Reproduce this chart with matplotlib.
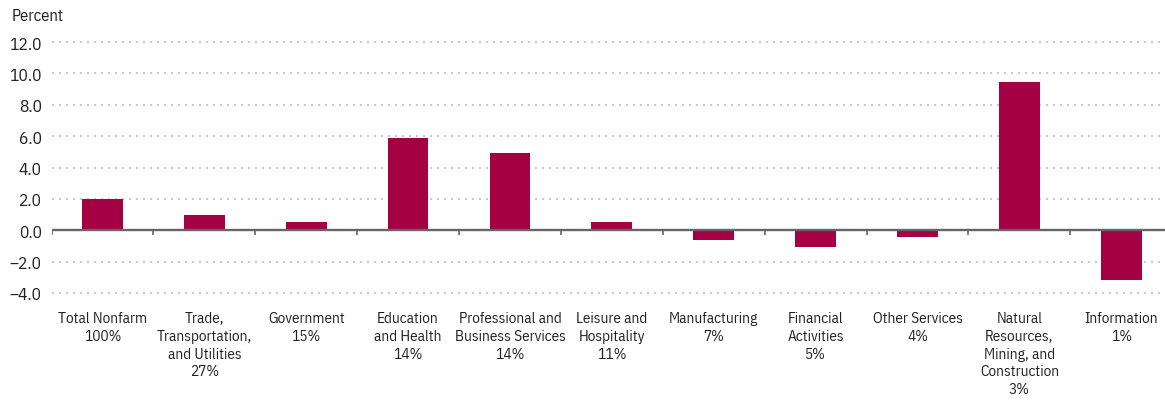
import matplotlib.pyplot as plt
from matplotlib.ticker import FuncFormatter

# data
sectors = ['Total Nonfarm\n100%', 'Trade,\nTransportation,\nand Utilities\n27%',
           'Government\n15%', 'Education\nand Health\n14%',
           'Professional and\nBusiness Services\n14%', 'Leisure and\nHospitality\n11%',
           'Manufacturing\n7%', 'Financial\nActivities\n5%', 'Other Services\n4%',
           'Natural\nResources,\nMining, and\nConstruction\n3%', 'Information\n1%']
change = [2.0, 1.0, 0.5, 5.85, 4.95, 0.5, -0.65, -1.1, -0.45, 9.45, -3.2]
yticks = [-4, -2, 0, 2, 4, 6, 8, 10, 12]

plt.rcParams['font.family'] = ['IBM Plex Sans Condensed', 'DejaVu Sans']
txt = '#231f20'

fig = plt.figure(figsize=(11.65, 4.02), dpi=100)
ax = fig.add_axes([51.5 / 1165, (402 - 297.1) / 402, (1165 - 51.5) / 1165, (297.1 - 39.9) / 402])

x = list(range(len(sectors)))
ax.bar(x, change, width=0.4, color='#a50044', zorder=3)

ax.set_ylim(-4.2, 12.2)
ax.set_xlim(-0.5, 10.43)
ax.set_yticks(yticks)
ax.yaxis.set_major_formatter(FuncFormatter(lambda v, p: f'{v:.1f}'.replace('-', '–')))
for v in yticks:
    if v != 0:
        ax.axhline(v, color='#bdbdbd', lw=1.2, linestyle=(0, (1.2, 3)), zorder=1)
ax.axhline(0, color='#666666', lw=1.7, zorder=4)
ax.vlines([i - 0.5 for i in x], -0.33, 0, color='#666666', lw=1.2, zorder=4)

ax.set_xticks(x)
ax.set_xticklabels(sectors, fontsize=11, color=txt, linespacing=1.33)
ax.tick_params(axis='x', length=0, pad=11)
ax.tick_params(axis='y', length=0, pad=7, labelsize=12.5, labelcolor=txt)
for s in ax.spines.values():
    s.set_visible(False)

fig.text(12 / 1165, 1 - 16 / 402, 'Percent', fontsize=12, color=txt, va='center', ha='left')

fig.savefig('out.png', dpi=100)
